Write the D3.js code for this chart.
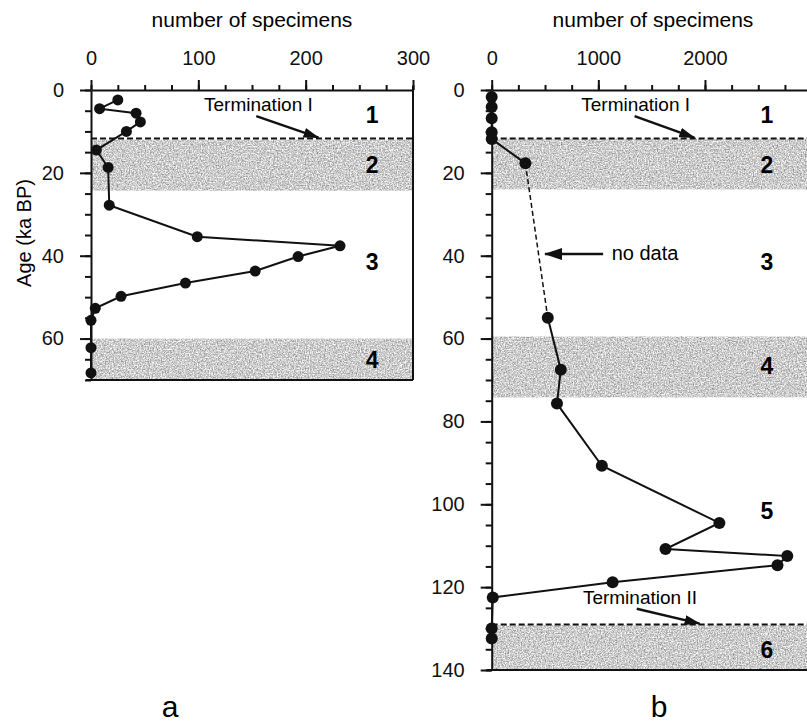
<!DOCTYPE html>
<html>
<head>
<meta charset="utf-8">
<script src="https://cdn.jsdelivr.net/npm/d3@7"></script>
<style>
  body { margin: 0; background: #fff; }
  svg { display: block; font-family: "Liberation Sans", Arial, sans-serif; }
</style>
</head>
<body>
<div id="chart"></div>
<script>
// panel a: specimens vs age
const agesA   = [2.4, 4.5, 5.6, 7.7, 10, 14.5, 18.7, 27.8, 35.4, 37.6, 40.2, 43.7, 46.6, 49.8, 52.7, 55.6, 62.2, 68.3];
const countsA = [25, 8, 42, 46, 33, 5, 16, 17, 99, 232, 193, 153, 88, 28, 4, 0, 0, 0];

// panel b
const agesB   = [1.7, 4.1, 6.8, 10.2, 11.8, 17.7, 55, 67.5, 75.7, 90.7, 104.5, 110.8, 112.5, 114.7, 118.8, 122.5, 130, 132.4];
const countsB = [0, 0, 0, 0, 0, 316, 526, 648, 612, 1033, 2135, 1630, 2772, 2680, 1134, 10, 0, 0];
const noDataFrom = 17.7, noDataTo = 55;

// isotope stage bands (ka)
const bandsA = [[12, 24.3], [60, 70]];
const bandsB = [[11.8, 24], [59.5, 74.2], [129.2, 140]];
const stagesA = [["1", 6], ["2", 18], ["3", 41.5], ["4", 65]];
const stagesB = [["1", 6], ["2", 18], ["3", 41.5], ["4", 66.6], ["5", 101.6], ["6", 135.2]];
const terminationI = 11.7, terminationII = 129;

const width = 807, height = 723;

const svg = d3.select("#chart").append("svg")
  .attr("width", width)
  .attr("height", height);

const defs = svg.append("defs");

// speckled grey for the stage bands
const grain = defs.append("filter").attr("id", "grain")
  .attr("x", 0).attr("y", 0).attr("width", "100%").attr("height", "100%")
  .attr("color-interpolation-filters", "sRGB");
grain.append("feTurbulence")
  .attr("type", "fractalNoise").attr("baseFrequency", 0.75)
  .attr("numOctaves", 3).attr("seed", 5);
grain.append("feColorMatrix").attr("type", "matrix")
  .attr("values", "0.8 0 0 0 0.4  0.8 0 0 0 0.4  0.8 0 0 0 0.4  0 0 0 0 1");
grain.append("feComposite").attr("in2", "SourceGraphic").attr("operator", "in");

defs.append("marker").attr("id", "head")
  .attr("markerUnits", "userSpaceOnUse")
  .attr("markerWidth", 16).attr("markerHeight", 10)
  .attr("refX", 15).attr("refY", 5).attr("orient", "auto")
  .append("path").attr("d", "M0,0L16,5L0,10Z").attr("fill", "#111");

defs.append("marker").attr("id", "bighead")
  .attr("markerUnits", "userSpaceOnUse")
  .attr("markerWidth", 18).attr("markerHeight", 12)
  .attr("refX", 17).attr("refY", 6).attr("orient", "auto")
  .append("path").attr("d", "M0,0L18,6L0,12Z").attr("fill", "#111");

function panel(opt) {
  const x = d3.scaleLinear().domain(opt.xDomain).range(opt.xRange);
  const y = d3.scaleLinear().domain(opt.yDomain).range(opt.yRange);
  const g = svg.append("g");
  const x0 = opt.xRange[0], x1 = Math.min(opt.xRange[1], width + 5);

  g.selectAll("rect.band")
    .data(opt.bands)
    .enter().append("rect")
    .attr("class", "band")
    .attr("x", x0)
    .attr("y", d => y(d[0]))
    .attr("width", x1 - x0)
    .attr("height", d => y(d[1]) - y(d[0]))
    .attr("fill", "#bbb")
    .attr("filter", "url(#grain)");

  // termination lines
  g.selectAll("line.term")
    .data(opt.terms)
    .enter().append("line")
    .attr("x1", x0).attr("x2", x1)
    .attr("y1", d => y(d.age)).attr("y2", d => y(d.age))
    .attr("stroke", "#111").attr("stroke-width", 2)
    .attr("stroke-dasharray", "6,3");

  g.selectAll("text.term")
    .data(opt.terms)
    .enter().append("text")
    .attr("x", d => x(d.tx)).attr("y", d => y(d.ty))
    .attr("text-anchor", "middle")
    .attr("font-size", 19)
    .text(d => d.label);

  g.selectAll("line.termArrow")
    .data(opt.terms)
    .enter().append("line")
    .attr("x1", d => x(d.ax[0])).attr("y1", d => y(d.ay[0]))
    .attr("x2", d => x(d.ax[1])).attr("y2", d => y(d.ay[1]))
    .attr("stroke", "#111").attr("stroke-width", 2.5)
    .attr("marker-end", "url(#head)");

  // frame
  g.append("line")
    .attr("x1", x0 - 5).attr("x2", x1)
    .attr("y1", opt.yRange[1]).attr("y2", opt.yRange[1])
    .attr("stroke", "#111").attr("stroke-width", 2);
  if (opt.xRange[1] < width) {
    g.append("line")
      .attr("x1", opt.xRange[1]).attr("x2", opt.xRange[1])
      .attr("y1", opt.yRange[0] - 4).attr("y2", opt.yRange[1])
      .attr("stroke", "#111").attr("stroke-width", 2);
  }

  // axes (only ticks that fit inside the picture get labels)
  const major = d3.range(opt.xDomain[0], opt.xDomain[1] + 1, opt.xMajor).filter(v => x(v) < width - 20);
  const top = g.append("g").attr("transform", `translate(0,${opt.yRange[0]})`);
  top.call(d3.axisTop(x).tickValues(major)
    .tickSize(10).tickSizeOuter(0).tickPadding(15).tickFormat(d3.format("d")));
  top.append("g")
    .call(d3.axisTop(x).tickValues(d3.range(opt.xDomain[0], opt.xDomain[1] + 1, opt.xMajor / 4))
      .tickSize(5).tickFormat(""))
    .select(".domain").remove();

  const left = g.append("g").attr("transform", `translate(${x0},0)`);
  left.call(d3.axisLeft(y).tickValues(d3.range(0, opt.yDomain[1] + 1, 20))
    .tickSize(11).tickSizeOuter(0).tickPadding(16));
  left.append("g")
    .call(d3.axisLeft(y).tickValues(d3.range(0, opt.yDomain[1] + 1, 5))
      .tickSize(6).tickFormat(""))
    .select(".domain").remove();

  g.selectAll(".tick text").attr("font-size", 20).attr("fill", "#111")
    .attr("font-family", "Liberation Sans, Arial, sans-serif");
  g.selectAll(".domain, .tick line").attr("stroke", "#111").attr("stroke-width", 2);

  g.append("text")
    .attr("x", opt.titleX).attr("y", 27)
    .attr("text-anchor", "middle")
    .attr("font-size", 21)
    .text("number of specimens");

  // stage numbers
  g.selectAll("text.stage")
    .data(opt.stages)
    .enter().append("text")
    .attr("x", x(opt.stageX)).attr("y", d => y(d[1]))
    .attr("dy", "0.36em")
    .attr("text-anchor", "middle")
    .attr("font-size", 23).attr("font-weight", "bold")
    .text(d => d[0]);

  return { x, y, g };
}

// panel a
const pa = panel({
  xDomain: [0, 300], xRange: [91, 413], xMajor: 100,
  yDomain: [0, 70], yRange: [90, 380],
  bands: bandsA, stages: stagesA, stageX: 262,
  titleX: 252,
  terms: [{ age: terminationI, label: "Termination I", tx: 156, ty: 5.1, ax: [154, 212], ay: [6.3, 11.5] }]
});

const ptsA = agesA.map((a, i) => ({ age: a, n: countsA[i] }));
const lineA = d3.line().x(d => pa.x(d.n)).y(d => pa.y(d.age));
pa.g.append("path").datum(ptsA)
  .attr("d", lineA).attr("fill", "none")
  .attr("stroke", "#111").attr("stroke-width", 2);
pa.g.selectAll("circle.pt").data(ptsA).enter().append("circle")
  .attr("cx", d => pa.x(d.n)).attr("cy", d => pa.y(d.age))
  .attr("r", 5.5).attr("fill", "#111");

// panel b
const pb = panel({
  xDomain: [0, 3000], xRange: [491.7, 811.6], xMajor: 1000,
  yDomain: [0, 140], yRange: [90, 670],
  bands: bandsB, stages: stagesB, stageX: 2580,
  titleX: 653,
  terms: [
    { age: terminationI, label: "Termination I", tx: 1350, ty: 5.1, ax: [1340, 1900], ay: [6.3, 11.5] },
    { age: terminationII, label: "Termination II", tx: 1390, ty: 124.1, ax: [1360, 1950], ay: [125.2, 128.8] }
  ]
});

const ptsB = agesB.map((a, i) => ({ age: a, n: countsB[i] }));
const lineB = d3.line().x(d => pb.x(d.n)).y(d => pb.y(d.age));
pb.g.append("path").datum(ptsB.filter(d => d.age <= noDataFrom))
  .attr("d", lineB).attr("fill", "none").attr("stroke", "#111").attr("stroke-width", 2);
pb.g.append("path").datum(ptsB.filter(d => d.age >= noDataFrom && d.age <= noDataTo))
  .attr("d", lineB).attr("fill", "none").attr("stroke", "#111").attr("stroke-width", 1.5)
  .attr("stroke-dasharray", "5,3");
pb.g.append("path").datum(ptsB.filter(d => d.age >= noDataTo))
  .attr("d", lineB).attr("fill", "none").attr("stroke", "#111").attr("stroke-width", 2);
pb.g.selectAll("circle.pt").data(ptsB).enter().append("circle")
  .attr("cx", d => pb.x(d.n)).attr("cy", d => pb.y(d.age))
  .attr("r", 6).attr("fill", "#111");

// "no data" note
pb.g.append("line")
  .attr("x1", pb.x(1045)).attr("x2", pb.x(500))
  .attr("y1", pb.y(39.6)).attr("y2", pb.y(39.6))
  .attr("stroke", "#111").attr("stroke-width", 2.5)
  .attr("marker-end", "url(#bighead)");
pb.g.append("text")
  .attr("x", pb.x(1125)).attr("y", pb.y(41))
  .attr("font-size", 20)
  .text("no data");

// y axis label
svg.append("text")
  .attr("transform", "translate(31,233) rotate(-90)")
  .attr("text-anchor", "middle")
  .attr("font-size", 20)
  .text("Age (ka BP)");

// panel letters
svg.append("text").attr("x", 170).attr("y", 717)
  .attr("text-anchor", "middle").attr("font-size", 30).text("a");
svg.append("text").attr("x", 659).attr("y", 717)
  .attr("text-anchor", "middle").attr("font-size", 30).text("b");
</script>
</body>
</html>
